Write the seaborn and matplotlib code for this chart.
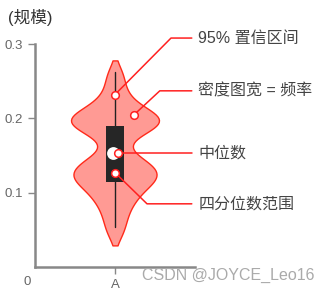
import matplotlib
matplotlib.use("Agg")
import matplotlib.pyplot as plt
import seaborn as sns
import pandas as pd

# ---- data ----
category = ["A"]
samples = [0.045, 0.060, 0.072, 0.083, 0.090, 0.097, 0.103, 0.108, 0.112,
           0.116, 0.119, 0.122, 0.125, 0.128, 0.131, 0.134, 0.138, 0.142,
           0.147, 0.154,
           0.172, 0.179, 0.184, 0.188, 0.191, 0.194, 0.196, 0.198, 0.200,
           0.203, 0.206, 0.210, 0.215, 0.222, 0.232, 0.246, 0.262]
q1, median, q3 = 0.114, 0.153, 0.190
whisker_lo, whisker_hi = 0.054, 0.262
yticks = [0.1, 0.2, 0.3]
ytick_labels = ["0.1", "0.2", "0.3"]
labels = ["95% 置信区间", "密度图宽 = 频率", "中位数", "四分位数范围"]
# anchor points (x offset in category units, y value) and label heights
anchor_x = [0.0, 0.12, 0.02, 0.0]
anchor_y = [0.232, 0.205, 0.153, 0.127]
label_y = [0.308, 0.237, 0.153, 0.085]
elbow_x = [0.35, 0.28, 0.02, 0.20]

sns.set_style("white")
plt.rcParams["font.family"] = ["Liberation Sans", "Noto Sans CJK SC", "DejaVu Sans"]

df = pd.DataFrame({"cat": category * len(samples), "value": samples})

fig = plt.figure(figsize=(3.29, 2.94), dpi=100)
ax = fig.add_axes([35 / 329, 27 / 294, 160 / 329, 223 / 294])

sns.violinplot(data=df, x="cat", y="value", inner=None, width=0.55,
               bw_adjust=0.5, cut=1.2, color="#ff9a94", linecolor="#ff2a1a",
               linewidth=1.0, saturation=1, ax=ax)
for c in ax.collections:
    c.set_facecolor("#ff9a94")
    c.set_edgecolor("#ff2a1a")

# inner box
ax.plot([0, 0], [whisker_lo, whisker_hi], color="#222222", lw=1.0, zorder=3)
ax.bar([0], [q3 - q1], bottom=[q1], width=0.11, color="#262626",
       linewidth=0, zorder=4)
ax.scatter([-0.012], [median], s=85, color="white", zorder=5, linewidths=0)

# annotations
for ax_x, ay, ly, ex, lab in zip(anchor_x, anchor_y, label_y, elbow_x, labels):
    ax.plot([ax_x, ex, 0.48], [ay, ly, ly], color="#ff2020", lw=1.1,
            clip_on=False, zorder=6)
    ax.plot([ax_x], [ay], marker="o", ms=5.5, mfc="white", mec="#ff2020",
            mew=1.1, clip_on=False, zorder=7)
    ax.text(0.52, ly, lab, fontsize=11.5, color="#444444", va="center",
            ha="left", clip_on=False)

ax.set_xlim(-0.5, 0.5)
ax.set_ylim(0, 0.3)
ax.set_yticks(yticks)
ax.set_yticklabels(ytick_labels)
ax.set_xlabel("")
ax.set_ylabel("")
for s in ["top", "right"]:
    ax.spines[s].set_visible(False)
for s in ["left", "bottom"]:
    ax.spines[s].set_color("#888888")
    ax.spines[s].set_linewidth(1.8)
ax.tick_params(axis="both", colors="#888888", labelcolor="#666666",
               labelsize=9.5, length=5, width=1, left=True, bottom=True)

fig.text(8 / 329, 1 - 17 / 294, "(规模)", fontsize=12, color="#333333",
         va="center", ha="left")
fig.text(27 / 329, 1 - 282 / 294, "0", fontsize=9.5, color="#666666",
         va="center", ha="center")
fig.text(314 / 329, 1 - 275 / 294, "CSDN @JOYCE_Leo16", fontsize=11.5,
         color="#aaaaaa", va="center", ha="right")

fig.savefig("out.png", dpi=100)
